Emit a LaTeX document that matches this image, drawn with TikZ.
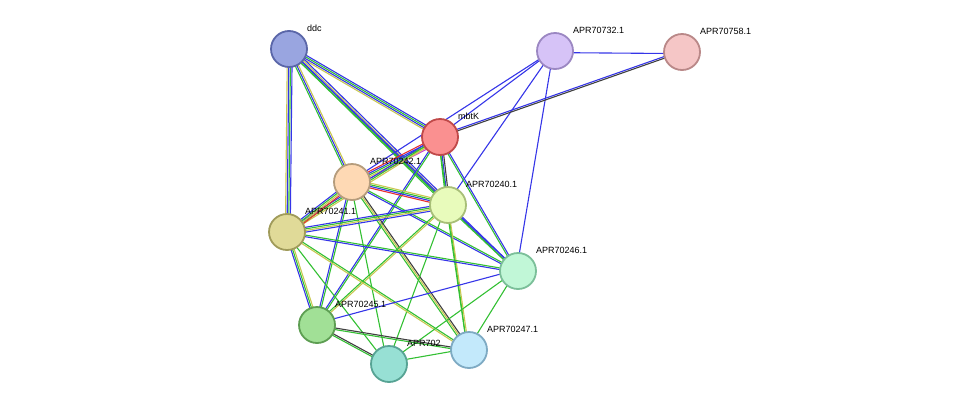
\documentclass[tikz,border=0pt]{standalone}
\usepackage{fontspec}
\setmainfont{Liberation Sans}
\usetikzlibrary{calc}
\definecolor{ctxt}{HTML}{33C033}
\definecolor{cexp}{HTML}{3535E8}
\definecolor{cdb}{HTML}{C8C850}
\definecolor{cfus}{HTML}{E83030}
\definecolor{cco}{HTML}{404040}
\definecolor{cnb}{HTML}{D040D0}
\definecolor{fddc}{HTML}{99A5E0}\definecolor{bddc}{HTML}{5A66A8}
\definecolor{fa732}{HTML}{D6C3F7}\definecolor{ba732}{HTML}{9B87C2}
\definecolor{fa758}{HTML}{F5C6C6}\definecolor{ba758}{HTML}{B98888}
\definecolor{fmbtK}{HTML}{FA9090}\definecolor{bmbtK}{HTML}{C04949}
\definecolor{fa242}{HTML}{FED9B4}\definecolor{ba242}{HTML}{B59C7C}
\definecolor{fa240}{HTML}{E8FBBB}\definecolor{ba240}{HTML}{A8BF78}
\definecolor{fa241}{HTML}{E0DA98}\definecolor{ba241}{HTML}{A09B5A}
\definecolor{fa246}{HTML}{C1F7D7}\definecolor{ba246}{HTML}{7BBF99}
\definecolor{fa245}{HTML}{A1E096}\definecolor{ba245}{HTML}{5D9E52}
\definecolor{fa248}{HTML}{97E0D4}\definecolor{ba248}{HTML}{57A394}
\definecolor{fa247}{HTML}{C3E9FB}\definecolor{ba247}{HTML}{7EAAC3}
\tikzset{prot/.style={circle,draw,line width=1.8pt,minimum size=36pt,inner sep=0pt},
  lbl/.style={anchor=west,font=\fontsize{9}{10}\selectfont,inner sep=0pt}}
% edge with parallel coloured lines
\newcommand\medge[3]{\foreach \c [count=\i] in {#3} {
  \draw[\c,line width=1.1pt] ($(#1)!{(\i-2)*1.6pt}!90:(#2)$) -- ($(#2)!{(\i-2)*1.6pt}!-90:(#1)$);}}
% protein node with its label
\newcommand\prot[3]{\node[prot,fill=f#1,draw=b#1] (#1) at (#2) {};
  \node[lbl] at ($(#1)+(18,-21)$) {#3};}
\begin{document}
\begin{tikzpicture}[x=1pt,y=-1pt]
\useasboundingbox (0,0) rectangle (976,410);
\coordinate (ddc) at (289,49);
\coordinate (a732) at (555,51);
\coordinate (a758) at (682,52);
\coordinate (mbtK) at (440,137);
\coordinate (a242) at (352,182);
\coordinate (a240) at (448,205);
\coordinate (a241) at (287,232);
\coordinate (a246) at (518,271);
\coordinate (a245) at (317,325);
\coordinate (a248) at (389,364);
\coordinate (a247) at (469,350);

\medge{ddc}{mbtK}{cdb,cexp,ctxt,cexp}
\medge{ddc}{a242}{ctxt,cexp,cdb}
\medge{ddc}{a240}{ctxt,cexp,cdb,cexp}
\medge{ddc}{a241}{cdb,cexp,ctxt,cexp}
\medge{ddc}{a246}{ctxt,cexp}
\medge{a732}{a758}{cexp}
\medge{a732}{mbtK}{cexp}
\medge{a732}{a242}{cexp}
\medge{a732}{a240}{cexp}
\medge{a732}{a246}{cexp}
\medge{a758}{mbtK}{cexp,cco}
\medge{mbtK}{a242}{cfus,cexp,ctxt,cdb,cnb}
\medge{mbtK}{a240}{ctxt,cexp,cco}
\medge{mbtK}{a241}{cexp,ctxt,cdb}
\medge{mbtK}{a246}{ctxt,cexp}
\medge{mbtK}{a245}{cexp,ctxt}
\medge{mbtK}{a247}{ctxt}
\medge{a242}{a240}{cfus,cexp,ctxt,cdb}
\medge{a242}{a241}{cexp,ctxt,cdb,cfus}
\medge{a242}{a246}{cexp,ctxt}
\medge{a242}{a245}{cexp,ctxt}
\medge{a242}{a247}{ctxt,cdb,cco}
\medge{a242}{a248}{ctxt}
\medge{a240}{a241}{cexp,ctxt,cdb,cexp}
\medge{a240}{a246}{ctxt,cexp}
\medge{a240}{a245}{ctxt,cdb}
\medge{a240}{a247}{ctxt,cdb}
\medge{a240}{a248}{ctxt}
\medge{a241}{a246}{cexp,ctxt}
\medge{a241}{a245}{cexp,ctxt,cdb}
\medge{a241}{a247}{cdb,ctxt}
\medge{a241}{a248}{ctxt}
\medge{a246}{a245}{cexp}
\medge{a246}{a247}{ctxt}
\medge{a246}{a248}{ctxt}
\medge{a245}{a247}{ctxt,cco}
\medge{a245}{a248}{ctxt,cco}
\medge{a247}{a248}{ctxt}

\prot{ddc}{289,49}{ddc}
\prot{a732}{555,51}{APR70732.1}
\prot{a758}{682,52}{APR70758.1}
\prot{mbtK}{440,137}{mbtK}
\prot{a242}{352,182}{APR70242.1}
\prot{a240}{448,205}{APR70240.1}
\prot{a241}{287,232}{APR70241.1}
\prot{a246}{518,271}{APR70246.1}
\prot{a245}{317,325}{APR70245.1}
\prot{a248}{389,364}{APR702}
\prot{a247}{469,350}{APR70247.1}
\end{tikzpicture}
\end{document}
